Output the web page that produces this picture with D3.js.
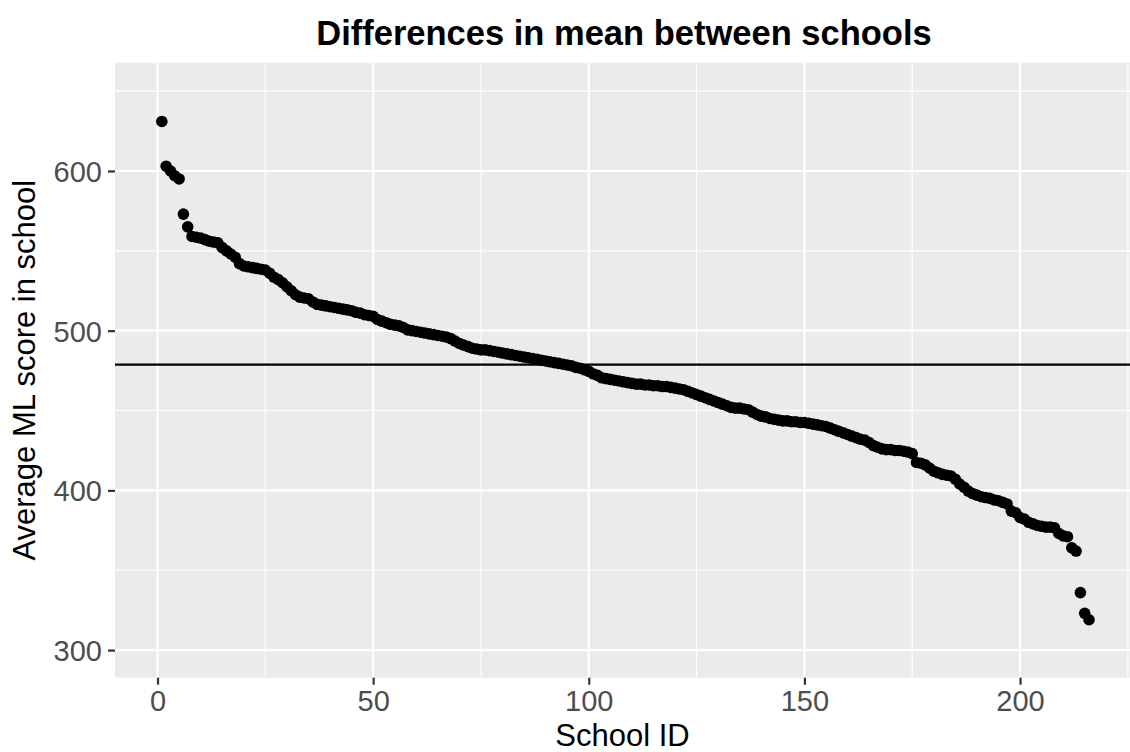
<!DOCTYPE html>
<html>
<head>
<meta charset="utf-8">
<script src="https://cdn.jsdelivr.net/npm/d3@7"></script>
<style>
  body { margin: 0; background: #fff; }
  svg { display: block; font-family: "Liberation Sans", Arial, sans-serif; }
</style>
</head>
<body>
<div id="chart"></div>
<script>
// average ML score per school, already sorted high to low
const schoolScores = [
  631, 603, 600, 597, 595, 573, 565, 559, 558.5, 558,
  557, 556, 555.5, 555, 552, 550, 548, 546, 542, 540.5,
  540, 539.5, 539, 538.5, 538, 536, 533.5, 532, 530, 527.5,
  525, 522.5, 521, 520.5, 520, 518, 516.5, 516, 515.5, 515,
  514.5, 514, 513.5, 513, 512.5, 511.5, 511, 510, 509.5, 509,
  507, 506, 505, 504, 503.5, 503, 502, 500.5, 500, 499.5,
  499, 498.5, 498, 497.5, 497, 496.5, 496, 495, 493.5, 492,
  491, 490, 489, 488.5, 488, 488, 487.5, 487, 486.5, 486,
  485.5, 485, 484.5, 484, 483.5, 483, 482.5, 482, 481.5, 481,
  480.5, 480, 479.5, 479, 478.5, 478, 477, 476.5, 475.5, 474.5,
  473, 472, 470.5, 470, 469.5, 469, 468.5, 468, 467.5, 467,
  466.5, 466.5, 466, 466, 465.5, 465.5, 465, 465, 464.5, 464,
  463.5, 463, 462, 461, 460, 459, 458, 457, 456, 455,
  454, 453, 452, 451.5, 451.5, 451, 450.5, 449, 447.5, 446.5,
  446, 445, 444.5, 444, 443.5, 443.5, 443, 443, 442.5, 442.5,
  442, 441.5, 441, 440.5, 440, 439, 438, 437, 436, 435,
  434, 433, 432, 431.5, 430, 428, 427, 426, 425.5, 425.5,
  425, 425, 424.5, 424, 423, 417.5, 417, 416, 414, 412,
  411, 410, 409.5, 409, 407, 404, 402, 399.5, 398, 397,
  396, 395.5, 395, 394, 393.5, 392.5, 391.5, 387, 386, 383,
  382, 380, 379, 378, 377.5, 377, 377, 376.5, 373, 371.5,
  371, 364, 362, 336, 323, 319
];
const grandMean = 478.7;

const xTicks = [0, 50, 100, 150, 200];
const xMinor = [25, 75, 125, 175, 225];
const yTicks = [300, 400, 500, 600];
const yMinor = [350, 450, 550, 650];

const chartTitle = "Differences in mean between schools";
const xTitle = "School ID";
const yTitle = "Average ML score in school";

const data = schoolScores.map((v, i) => ({ id: i + 1, score: v }));

const width = 1130;
const height = 752;
const panel = { left: 115, right: 1130, top: 62.7, bottom: 677.7 };

const svg = d3
  .select("#chart")
  .append("svg")
  .attr("width", width)
  .attr("height", height);

const xScale = d3
  .scaleLinear()
  .domain([-9.86, 225.5])
  .range([panel.left, panel.right]);

const yScale = d3
  .scaleLinear()
  .domain([282.7, 667.8])
  .range([panel.bottom, panel.top]);

// panel
svg
  .append("rect")
  .attr("x", panel.left)
  .attr("y", panel.top)
  .attr("width", panel.right - panel.left)
  .attr("height", panel.bottom - panel.top)
  .style("fill", "#EBEBEB");

const grid = svg.append("g");
grid
  .selectAll(".ymin")
  .data(yMinor)
  .join("line")
  .attr("x1", panel.left)
  .attr("x2", panel.right)
  .attr("y1", (d) => yScale(d))
  .attr("y2", (d) => yScale(d))
  .style("stroke", "white")
  .style("stroke-width", 1.1);
grid
  .selectAll(".xmin")
  .data(xMinor)
  .join("line")
  .attr("y1", panel.top)
  .attr("y2", panel.bottom)
  .attr("x1", (d) => xScale(d))
  .attr("x2", (d) => xScale(d))
  .style("stroke", "white")
  .style("stroke-width", 1.1);
grid
  .selectAll(".ymaj")
  .data(yTicks)
  .join("line")
  .attr("x1", panel.left)
  .attr("x2", panel.right)
  .attr("y1", (d) => yScale(d))
  .attr("y2", (d) => yScale(d))
  .style("stroke", "white")
  .style("stroke-width", 2.2);
grid
  .selectAll(".xmaj")
  .data(xTicks)
  .join("line")
  .attr("y1", panel.top)
  .attr("y2", panel.bottom)
  .attr("x1", (d) => xScale(d))
  .attr("x2", (d) => xScale(d))
  .style("stroke", "white")
  .style("stroke-width", 2.2);

// points
svg
  .append("g")
  .selectAll("circle")
  .data(data)
  .join("circle")
  .attr("cx", (d) => xScale(d.id))
  .attr("cy", (d) => yScale(d.score))
  .attr("r", 5.8)
  .style("fill", "black");

// grand mean line
svg
  .append("line")
  .attr("x1", panel.left)
  .attr("x2", panel.right)
  .attr("y1", yScale(grandMean))
  .attr("y2", yScale(grandMean))
  .style("stroke", "black")
  .style("stroke-width", 2.2);

// axes
const xAxis = svg
  .append("g")
  .attr("transform", `translate(0,${panel.bottom})`)
  .call(d3.axisBottom(xScale).tickValues(xTicks).tickSize(7).tickPadding(6));
const yAxis = svg
  .append("g")
  .attr("transform", `translate(${panel.left},0)`)
  .call(d3.axisLeft(yScale).tickValues(yTicks).tickSize(7).tickPadding(6));

[xAxis, yAxis].forEach((ax) => {
  ax.select(".domain").remove();
  ax.selectAll(".tick line").style("stroke", "#333333").style("stroke-width", 2.2);
  ax.selectAll(".tick text")
    .style("fill", "#4D4D4D")
    .style("font-size", "29px")
    .style("font-family", "Liberation Sans, Arial, sans-serif");
});
yAxis.selectAll(".tick text").attr("dy", "0.36em");

// titles
svg
  .append("text")
  .attr("x", 624)
  .attr("y", 45)
  .style("text-anchor", "middle")
  .style("font-size", "34.5px")
  .style("font-weight", "bold")
  .text(chartTitle);

svg
  .append("text")
  .attr("x", (panel.left + panel.right) / 2)
  .attr("y", 746)
  .style("text-anchor", "middle")
  .style("font-size", "31px")
  .text(xTitle);

svg
  .append("text")
  .attr("transform", `translate(35,${(panel.top + panel.bottom) / 2}) rotate(-90)`)
  .style("text-anchor", "middle")
  .style("font-size", "31px")
  .text(yTitle);
</script>
</body>
</html>
